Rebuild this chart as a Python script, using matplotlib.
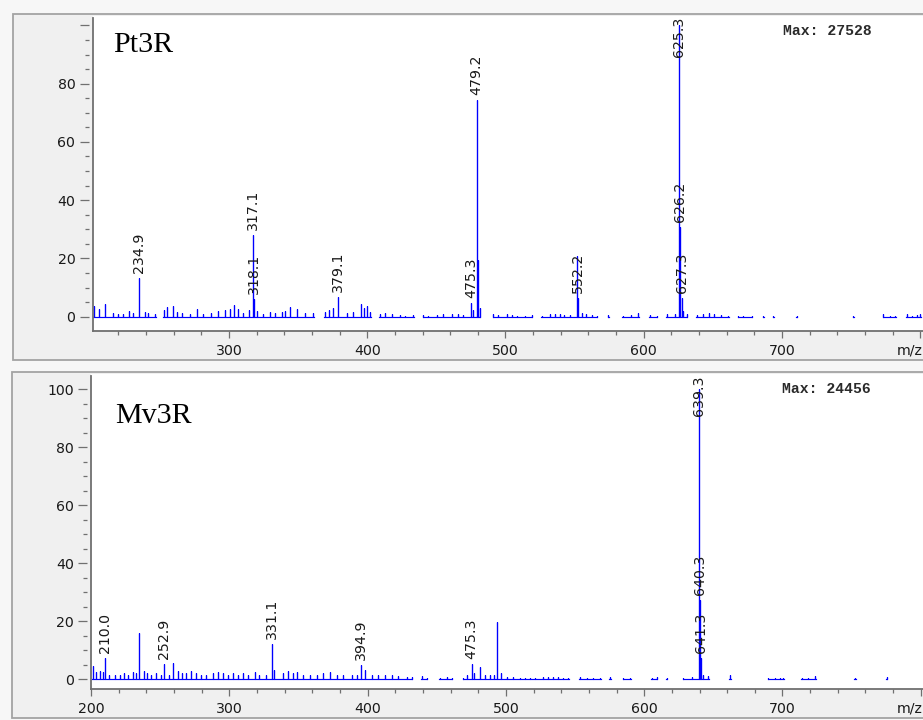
import matplotlib
matplotlib.use("Agg")
import numpy as np
import matplotlib.pyplot as plt
from matplotlib.patches import Rectangle
from matplotlib.ticker import FixedLocator, MultipleLocator, FuncFormatter
from matplotlib.lines import Line2D

# ---------------------------------------------------------------- data
# Pt3R spectrum: m/z and relative intensity (%)
pt_mz = [202.4, 206.3, 210.4, 216.4, 220.0, 223.6, 228.0, 230.9, 234.9, 239.3,
         241.7, 246.5, 253.1, 255.4, 259.8, 262.7, 265.9, 271.9, 277.1, 281.5,
         286.8, 292.3, 297.2, 300.8, 303.6, 306.8, 310.4, 314.7, 317.1, 318.1,
         320.1, 324.9, 329.7, 333.3, 338.2, 340.5, 344.2, 349.0, 355.0, 361.0,
         369.5, 372.6, 375.5, 379.1, 385.2, 390.0, 395.3, 397.7, 399.6, 402.0,
         409.2, 412.9, 417.7, 423.7, 427.3, 433.3, 440.5, 444.2, 450.2, 455.0,
         461.1, 465.8, 469.5, 475.3, 476.4, 479.2, 480.2, 481.2, 491.2, 494.8,
         500.9, 504.5, 508.5, 514.0, 518.9, 526.1, 532.2, 535.8, 539.4, 542.5,
         546.6, 551.9, 552.2, 555.0, 558.1, 562.2, 565.9, 574.3, 585.1, 590.5,
         596.0, 604.5, 609.3, 616.5, 622.5, 625.3, 626.2, 627.3, 628.3, 630.9,
         638.2, 642.5, 647.3, 650.7, 655.8, 661.1, 668.3, 671.9, 678.0, 686.4,
         693.6, 710.6, 751.5, 773.2, 778.0, 781.6, 790.0, 793.7, 797.3, 799.7]
pt_int = [3.7, 2.5, 4.2, 1.4, 0.8, 1.1, 2.0, 1.4, 13.4, 1.7,
          1.4, 1.1, 2.3, 3.2, 3.7, 1.7, 1.4, 1.1, 2.5, 1.1,
          1.4, 2.0, 2.3, 2.5, 4.0, 2.5, 1.4, 2.3, 28.0, 6.0,
          2.0, 1.1, 1.7, 1.4, 1.7, 2.1, 3.3, 2.5, 1.4, 1.4,
          1.7, 2.3, 2.9, 6.9, 1.4, 1.7, 4.2, 2.9, 3.7, 1.7,
          1.1, 1.4, 0.8, 0.6, 0.3, 0.6, 0.6, 0.3, 0.6, 0.8,
          0.8, 1.1, 0.6, 4.6, 2.3, 74.4, 19.5, 3.0, 0.8, 0.6,
          0.8, 0.6, 0.4, 0.4, 0.6, 0.4, 0.8, 1.1, 1.1, 0.6,
          0.6, 20.8, 6.3, 1.4, 1.1, 0.6, 0.4, 0.6, 0.4, 0.6,
          1.4, 0.6, 0.4, 1.1, 0.8, 100.0, 30.9, 6.3, 2.0, 0.8,
          0.6, 1.1, 1.4, 0.8, 0.5, 0.3, 0.4, 0.3, 0.3, 0.3,
          0.3, 0.3, 0.3, 0.8, 0.3, 0.3, 0.8, 0.4, 0.6, 0.8]
pt_labels = [234.9, 317.1, 318.1, 379.1, 475.3, 479.2, 552.2, 625.3, 626.2, 627.3]
pt_max = 27528

# Mv3R spectrum
mv_mz = [201.4, 203.9, 206.3, 208.7, 210.0, 212.8, 217.1, 220.7, 223.9, 226.8,
         230.4, 232.8, 234.9, 238.3, 240.7, 243.6, 247.2, 250.4, 252.9, 256.4,
         259.2, 262.9, 265.8, 268.9, 272.5, 276.1, 279.8, 283.4, 288.2, 291.8,
         295.4, 299.1, 302.7, 306.3, 309.9, 313.5, 318.4, 321.3, 326.8, 331.1,
         332.6, 338.8, 342.4, 346.1, 349.2, 353.5, 358.4, 363.2, 368.0, 372.8,
         377.7, 382.5, 388.5, 392.6, 394.9, 397.8, 403.0, 407.7, 412.6, 417.4,
         422.2, 428.3, 431.9, 439.1, 442.7, 452.3, 457.2, 460.8, 469.2, 471.6,
         475.3, 477.1, 481.4, 484.9, 488.5, 491.4, 493.8, 496.2, 500.6, 505.3,
         510.2, 513.8, 517.4, 521.0, 527.0, 530.7, 534.3, 537.9, 541.5, 545.1,
         553.6, 558.4, 563.2, 568.0, 575.3, 584.9, 589.7, 605.4, 609.0, 616.3,
         628.3, 634.3, 639.3, 640.3, 641.3, 642.3, 646.4, 662.0, 689.7, 694.6,
         698.2, 700.6, 713.9, 718.7, 723.5, 752.5, 775.4]
mv_int = [4.5, 2.5, 2.8, 2.5, 7.3, 1.6, 1.6, 1.6, 2.0, 1.6,
          2.4, 2.0, 16.0, 2.8, 2.2, 1.6, 2.2, 1.6, 5.3, 1.6,
          5.6, 2.8, 2.2, 2.2, 2.8, 2.0, 1.4, 1.6, 2.0, 2.4,
          2.2, 1.6, 2.0, 1.6, 2.2, 1.4, 2.4, 1.6, 1.4, 12.2,
          3.3, 2.0, 3.0, 2.2, 2.4, 1.6, 1.4, 1.6, 2.0, 2.5,
          1.4, 1.6, 1.4, 1.6, 5.0, 3.3, 1.6, 1.4, 1.6, 1.6,
          1.0, 0.7, 0.7, 1.0, 0.5, 0.5, 0.7, 0.5, 0.5, 1.6,
          5.3, 2.0, 4.1, 1.6, 1.4, 1.6, 19.9, 2.0, 0.7, 0.7,
          0.5, 0.5, 0.5, 0.5, 0.7, 0.7, 0.7, 0.7, 0.5, 0.5,
          0.7, 0.5, 0.5, 0.5, 0.9, 0.5, 0.5, 0.5, 0.7, 0.5,
          0.5, 0.7, 100.0, 27.3, 7.3, 1.5, 1.0, 1.6, 0.5, 0.5,
          0.5, 0.5, 0.5, 0.5, 1.0, 0.5, 0.7]
mv_labels = [210.0, 252.9, 331.1, 394.9, 475.3, 639.3, 640.3, 641.3]
mv_max = 24456

# ---------------------------------------------------------------- layout
W, H = 923, 720
fig = plt.figure(figsize=(W / 100, H / 100), dpi=100, facecolor="#f7f7f7")

BLUE = "#0000ff"
AXC = "#707070"
TXT = "#1a1a1a"
FS = 10.2


def fig_rect(x0, y0, x1, y1):
    """Pixel box (top-left origin) -> figure fraction [l, b, w, h]."""
    return [x0 / W, 1 - y1 / H, (x1 - x0) / W, (y1 - y0) / H]


def frame(x0, y0, x1, y1):
    l, b, w, h = fig_rect(x0, y0, x1, y1)
    fig.add_artist(Rectangle((l, b), w, h, transform=fig.transFigure,
                             facecolor="#f0f0f0", edgecolor="#a3a3a3",
                             lw=1.3, zorder=0))


frame(13, 13.5, 940, 360)
frame(12, 372, 940, 718)


def stick_path(mz, inten, gap=6.5, foot=0.5):
    xs, ys = [], []
    prev = None
    for m, v in sorted(zip(mz, inten)):
        if prev is not None and m - prev > gap:
            xs.append(np.nan)
            ys.append(np.nan)
        xs += [m - foot, m, m, m, m + foot]
        ys += [0, 0, v, 0, 0]
        prev = m
    return xs, ys


def panel(box, xlim, ylim, axis_top, mz, inten, labels, name, name_xy,
          max_val, max_xy, mz_y, label_100):
    ax = fig.add_axes(fig_rect(*box))
    ax.set_facecolor("white")
    ax.set_xlim(*xlim)
    ax.set_ylim(*ylim)

    xs, ys = stick_path(mz, inten)
    ax.plot(xs, ys, color=BLUE, lw=0.85, solid_joinstyle="miter", zorder=3)

    # spines: bottom normal, left tick line offset slightly from the axis line
    for s in ("top", "right"):
        ax.spines[s].set_visible(False)
    ax.spines["bottom"].set_color(AXC)
    ax.spines["bottom"].set_linewidth(1.3)
    ax.spines["left"].set_position(("outward", 3))
    ax.spines["left"].set_color("none")
    ax.add_line(Line2D([0, 0], [ylim[0], axis_top], transform=ax.get_yaxis_transform(),
                       color=AXC, lw=1.3, clip_on=False, zorder=4))

    ax.yaxis.set_major_locator(FixedLocator([0, 20, 40, 60, 80, 100]))
    ax.yaxis.set_minor_locator(FixedLocator(np.arange(0, 101, 5)))
    ax.yaxis.set_major_formatter(FuncFormatter(
        lambda v, p: "" if (v >= 100 and not label_100) else f"{v:.0f}"))
    ax.xaxis.set_major_locator(MultipleLocator(100))
    ax.xaxis.set_minor_locator(MultipleLocator(20))
    ax.xaxis.set_major_formatter(FuncFormatter(
        lambda v, p: "" if v >= 800 else f"{v:.0f}"))

    ax.tick_params(axis="y", which="major", direction="out", length=6.5, width=0.9,
                   color=AXC, labelsize=FS, labelcolor=TXT, pad=3)
    ax.tick_params(axis="y", which="minor", direction="out", length=3.1, width=0.9,
                   color=AXC)
    ax.tick_params(axis="x", which="major", direction="out", length=5.2, width=0.9,
                   color=AXC, labelsize=FS, labelcolor=TXT, pad=4.3)
    ax.tick_params(axis="x", which="minor", direction="out", length=2.7, width=0.9,
                   color=AXC)

    # peak annotations
    lookup = dict(zip(mz, inten))
    anns = []
    for m in labels:
        a = ax.annotate(f"{m:.1f}", xy=(m, lookup[m]), xytext=(0, 5),
                        textcoords="offset pixels", rotation=90, ha="center",
                        va="bottom", fontsize=FS, color=TXT, zorder=5,
                        annotation_clip=False)
        anns.append(a)

    fig.text(name_xy[0] / W, 1 - name_xy[1] / H, name, family="Liberation Serif",
             fontsize=21.6, color="black", ha="left", va="baseline")
    fig.text(max_xy[0] / W, 1 - max_xy[1] / H, f"Max: {max_val}",
             family="Liberation Mono", fontweight="bold", fontsize=10.6,
             color="#2a2a2a", ha="left", va="baseline")
    fig.text(896.5 / W, 1 - mz_y / H, "m/z", fontsize=FS, color=TXT,
             ha="left", va="center")
    return ax, anns


ax1, anns1 = panel((92.7, 15.5, 923, 330.7), (201.5, 801.9), (-4.8, 103.4), 102.6,
                   pt_mz, pt_int, pt_labels, "Pt3R", (113, 51.5),
                   pt_max, (783, 35), 350, False)
ax2, anns2 = panel((91, 374, 923, 689.3), (200.0, 801.6), (-3.45, 105.3), 104.6,
                   mv_mz, mv_int, mv_labels, "Mv3R", (115, 423),
                   mv_max, (781.5, 393), 708, True)

# keep peak labels inside the plotting area
fig.canvas.draw()
r = fig.canvas.get_renderer()
for ax, anns in ((ax1, anns1), (ax2, anns2)):
    top = ax.get_window_extent(r).y1 - 1.5
    for a in anns:
        bb = a.get_window_extent(r)
        over = bb.y1 - top
        if over > 0:
            a.xyann = (0, 5 - over)

fig.savefig("out.png", dpi=100, facecolor=fig.get_facecolor())
